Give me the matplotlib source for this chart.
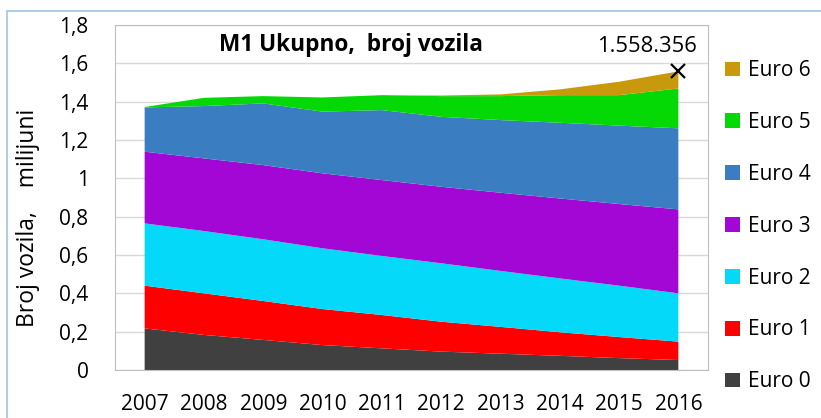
import matplotlib.pyplot as plt
from matplotlib.patches import Patch, Rectangle
import numpy as np

years = [2007, 2008, 2009, 2010, 2011, 2012, 2013, 2014, 2015, 2016]
series_names = ["Euro 0", "Euro 1", "Euro 2", "Euro 3", "Euro 4", "Euro 5", "Euro 6"]
euro0 = [0.217, 0.183, 0.157, 0.130, 0.113, 0.096, 0.085, 0.074, 0.062, 0.052]
euro1 = [0.223, 0.217, 0.203, 0.188, 0.174, 0.156, 0.140, 0.123, 0.110, 0.096]
euro2 = [0.325, 0.325, 0.322, 0.317, 0.308, 0.305, 0.292, 0.281, 0.268, 0.252]
euro3 = [0.374, 0.379, 0.387, 0.391, 0.396, 0.399, 0.408, 0.417, 0.426, 0.438]
euro4 = [0.231, 0.273, 0.322, 0.322, 0.365, 0.365, 0.379, 0.395, 0.409, 0.423]
euro5 = [0.002, 0.043, 0.038, 0.074, 0.078, 0.108, 0.125, 0.144, 0.159, 0.208]
euro6 = [0.000, 0.000, 0.000, 0.000, 0.000, 0.003, 0.009, 0.030, 0.070, 0.089]
total_2016 = 1.558356
colors = ["#404040", "#FF0000", "#05D9FA", "#A307D6", "#3A7EC1", "#05D905", "#C8990A"]

plt.rcParams["font.family"] = ["Open Sans", "DejaVu Sans"]

fig = plt.figure(figsize=(8.21, 4.18), dpi=100)
fig.patches.append(Rectangle((7 / 821, -0.1), 1.2, (418 - 11) / 418 + 0.1,
                             transform=fig.transFigure, fill=False,
                             edgecolor="#9DC3E6", linewidth=1.2))
ax = fig.add_axes([115 / 821, 48 / 418, 593 / 821, 345 / 418])

ax.stackplot(years, euro0, euro1, euro2, euro3, euro4, euro5, euro6,
             colors=colors, linewidth=0, zorder=2)
ax.set_xlim(2006.5, 2016.5)
ax.set_ylim(0, 1.8)
ax.set_xticks(years)
ax.set_xticklabels([str(y) for y in years], fontsize=15)
yt = np.arange(0, 1.81, 0.2)
ax.set_yticks(yt)
ax.set_yticklabels(["0" if v == 0 else ("1" if abs(v - 1) < 1e-9 else f"{v:.1f}".replace(".", ","))
                    for v in yt], fontsize=15)
ax.tick_params(length=0, pad=19)
ax.tick_params(axis="x", pad=17)
ax.grid(axis="y", color="#D9D9D9", linewidth=1, zorder=0)
ax.set_axisbelow(True)
for s in ax.spines.values():
    s.set_color("#BFBFBF")
ax.set_ylabel("Broj vozila,    milijuni", fontsize=16.5)
ax.yaxis.set_label_coords(-0.126, 0.44)

ax.text(0.398, 0.942, "M1 Ukupno,  broj vozila", transform=ax.transAxes,
        ha="center", va="center", fontsize=16.3, fontweight="bold")
ax.plot([years[-1]], [total_2016], marker="x", color="black", markersize=10,
        markeredgewidth=1.6, zorder=5, clip_on=False)
ax.annotate("1.558.356", xy=(years[-1], total_2016), xytext=(-31, 25),
            textcoords="offset pixels", ha="center", va="center", fontsize=15.8)

handles = [Patch(facecolor=c, edgecolor="none") for c in colors[::-1]]
fig.legend(handles, series_names[::-1], loc="upper left",
           bbox_to_anchor=(717 / 821, 1 - 52 / 418), frameon=False, fontsize=15,
           handlelength=0.72, handleheight=0.72, handletextpad=0.35, labelspacing=1.48,
           borderaxespad=0)

fig.savefig("out.png", dpi=100)
